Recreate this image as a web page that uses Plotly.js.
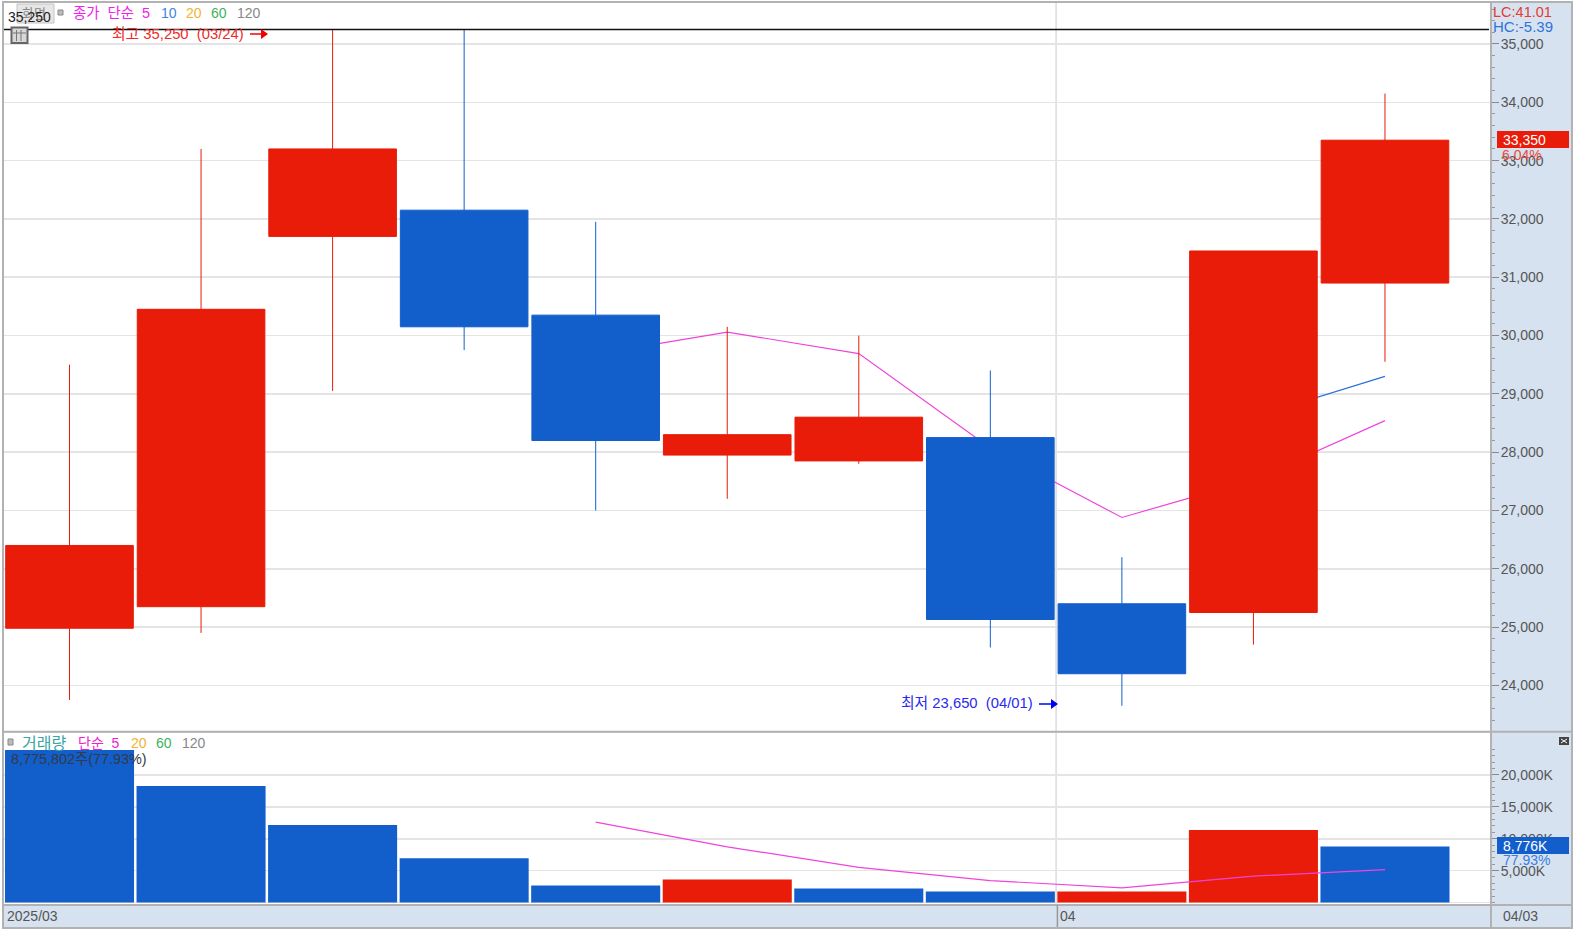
<!DOCTYPE html>
<html><head><meta charset="utf-8">
<script src="https://cdn.plot.ly/plotly-3.0.1.min.js"></script>
<style>html,body{margin:0;padding:0;background:#fff}#c{width:1576px;height:929px}</style>
</head><body><div id="c"></div>
<script>
const dates = ['03/20','03/21','03/24','03/25','03/26','03/27','03/28','03/31','04/01','04/02','04/03'];
const opens = [24980,25350,31700,32150,30350,27950,27850,28250,25400,25250,30900];
const highs = [29500,33200,35250,35250,31950,30150,30000,29400,26200,31450,34150];
const lows  = [23750,24900,29050,29750,27000,27200,27800,24650,23650,24700,29550];
const closes= [26400,30450,33200,30150,28200,28300,28600,25130,24200,31450,33350];
const ma5   = [null,null,null,null,29680,30060,29690,28070,26880,27530,28540];
const ma10  = [null,null,null,null,null,null,null,null,null,28605,29300];
const volumes = [23900,18260,12150,6930,2680,3620,2210,1740,1740,11360,8776];
const volColors = ['b','b','b','b','b','r','b','b','r','r','b'];
const volMa5 = [null,null,null,null,12584,8728,5518,3436,2302,4134,5165];
const volTicks = [5000,10000,15000,20000];
const monthBoundary = 7.5;
const highValue = 35250, lowValue = 23650;

const RED='#e81c08', BLUE='#125fcc', PINK='#ee44dd', GREY='#555555', FRAME='#b2b2b2';
const L=4,R=1491,T=3,B=904;
const fx=x=>(x-L)/(R-L), fy=y=>1-(y-T)/(B-T);
const LAT='"Liberation Sans", "Noto Sans CJK KR", Arial, sans-serif';
const SP='\u00A0 ';

const ann=[]; const shapes=[];
function text(x,y,t,color,size){ann.push({xref:'paper',yref:'paper',x:fx(x),y:fy(y),text:t,showarrow:false,xanchor:'left',yanchor:'middle',align:'left',borderpad:0,font:{family:LAT,size:size||14,color:color}});}
function rect(x0,y0,x1,y1,fill,line,w,layer){shapes.push({type:'rect',xref:'paper',yref:'paper',x0:fx(x0),x1:fx(x1),y0:fy(y0),y1:fy(y1),fillcolor:fill,line:{color:line||fill,width:line?(w||1):0},layer:layer||'above'});}
function seg(x0,y0,x1,y1,color,w,layer){shapes.push({type:'line',xref:'paper',yref:'paper',x0:fx(x0),x1:fx(x1),y0:fy(y0),y1:fy(y1),line:{color:color,width:w||1},layer:layer||'above'});}
function arrow(x0,x1,y,color){seg(x0,y,x1-6,y,color,1.5);
  const a=fx(x1-7),b=fx(x1),h=5/(B-T);const m=fy(y);
  shapes.push({type:'path',xref:'paper',yref:'paper',path:`M ${a} ${m+h} L ${b} ${m} L ${a} ${m-h} Z`,fillcolor:color,line:{width:0},layer:'above'});}

// month separator and high line
shapes.push({type:'line',xref:'x',yref:'paper',x0:monthBoundary,x1:monthBoundary,y0:0,y1:1,line:{color:'#dcdcdc',width:1.5},layer:'below'});
shapes.push({type:'line',xref:'paper',yref:'y',x0:0,x1:fx(1489),y0:highValue,y1:highValue,line:{color:'#111',width:1.5},layer:'above'});

// frame
rect(1497,131,1569,148,RED);
rect(1497,837,1569,854,BLUE);
seg(L,731.7,1572,731.7,FRAME,2);
seg(L,905,1572,905,FRAME,2);
seg(1491,2,1491,927,FRAME,2);
seg(1057.4,905,1057.4,927,'#999',1.5);
rect(1572,0,1576,929,'#ffffff');
rect(0,0,3,929,'#ffffff');
rect(0,0,1576,2,'#ffffff');
rect(0,928,1576,929,'#ffffff');
rect(3,2,1572,928,'rgba(0,0,0,0)',FRAME,2);

// toolbar pieces
rect(17,4,54,23,'#e6e6e6','#c4c4c4',1);
rect(58,10,63,15,'#bbbbbb','#888888',1);
rect(11.5,27.5,27.5,43,'#d8d8d8','#666666',2);
seg(16.5,30,16.5,41,'#777');seg(21,30,21,41,'#777');seg(13,33,26,33,'#777');
rect(8,739,13,745,'#bbbbbb','#888888',1);
rect(1559,737,1569,745,'#444444');
seg(1561,739,1567,743,'#fff',1);seg(1561,743,1567,739,'#fff',1);

// price legend
text(21,13,'화면','#888888',13);
text(7,17,'35,250','#222222',14);
text(72,13,'종가'+SP+'단순'+SP+'5','#f020f0',14.4);
text(160,13,'10','#3f83e6',14);
text(185,13,'20','#f2b233',14);
text(210,13,'60','#3cb35a',14);
text(236,13,'120','#888888',14);
text(111,34,'최고 35,250'+SP+'(03/24)','#f02a2a',14.8);
arrow(250,268,34,'#f00000');
text(900,703,'최저 23,650'+SP+'(04/01)','#2a2af0',14.8);
arrow(1039,1058,704,'#0000f0');

// right labels
text(1492,12,'LC:41.01','#e83a30',14.5);
text(1492,27,'HC:-5.39','#3074d8',15);
text(1502,140,'33,350','#ffffff',14);
text(1501,155,'6.04%','#e84a3a',14);
text(1502,846,'8,776K','#ffffff',14);
text(1502,860,'77.93%','#3a7ee0',14);

// volume legend
text(21,743,'거래량','#3aa5a5',16);
text(77,743,'단순'+SP+'5','#f020d0',14);
text(130,743,'20','#f2b233',14);
text(155,743,'60','#3cb35a',14);
text(181,743,'120','#888888',14);
text(10,759,'8,775,802주(77.93%)','#333a48',14.4);

// bottom labels
text(6,916,'2025/03',GREY,14);
text(1059,916,'04',GREY,14);
text(1502,916,'04/03',GREY,14);

const traces=[
 {type:'scatter',mode:'lines',x:dates,y:ma5,xaxis:'x',yaxis:'y',line:{color:PINK,width:1.2},hoverinfo:'skip',connectgaps:false},
 {type:'scatter',mode:'lines',x:dates,y:ma10,xaxis:'x',yaxis:'y',line:{color:'#2a6fdc',width:1.2},hoverinfo:'skip'},
 {type:'candlestick',x:dates,open:opens,high:highs,low:lows,close:closes,xaxis:'x',yaxis:'y3',
  increasing:{line:{color:RED,width:1},fillcolor:RED},decreasing:{line:{color:BLUE,width:1},fillcolor:BLUE},whiskerwidth:0,hoverinfo:'skip'},
 {type:'bar',x:dates,y:volumes,xaxis:'x2',yaxis:'y2',marker:{color:volColors.map(c=>c==='r'?RED:BLUE),line:{width:0}},hoverinfo:'skip'},
 {type:'scatter',mode:'lines',x:dates,y:volMa5,xaxis:'x2',yaxis:'y2',line:{color:PINK,width:1.2},hoverinfo:'skip'}
];
const xr=[-0.498,10.806];
const priceRange=[23218,35703];
const mainDom=[(B-731)/(B-T),1], volDom=[0,(B-733)/(B-T)];
const minorVol=[];for(let v=0;v<=24000;v+=1000)minorVol.push(v);
const layout={
 width:1576,height:929,margin:{l:L,r:1576-R,t:T,b:929-B,pad:0},
 paper_bgcolor:'#d6e2ef',plot_bgcolor:'#ffffff',showlegend:false,bargap:0.019,boxmode:'overlay',boxgap:0.03,boxgroupgap:0,
 hovermode:false,dragmode:false,
 xaxis:{type:'category',categoryorder:'array',categoryarray:dates,range:xr,domain:[0,1],anchor:'y',showgrid:false,showticklabels:false,ticks:'',zeroline:false,rangeslider:{visible:false}},
 xaxis2:{type:'category',categoryorder:'array',categoryarray:dates,range:xr,domain:[0,1],anchor:'y2',showgrid:false,showticklabels:false,ticks:'',zeroline:false},
 yaxis:{domain:mainDom,range:priceRange,anchor:'x',side:'right',dtick:1000,tick0:0,tickformat:',d',separatethousands:true,
  gridcolor:'#e4e4e4',gridwidth:1.6,zeroline:false,ticks:'outside',ticklen:7,tickcolor:'#888',tickwidth:1,ticklabelstandoff:-1,
  minor:{dtick:200,ticks:'outside',ticklen:3,tickcolor:'#999',showgrid:false},
  tickfont:{family:LAT,size:14,color:GREY}},
 yaxis3:{domain:mainDom,range:priceRange,overlaying:'y',anchor:'x',side:'left',visible:false,showgrid:false,zeroline:false},
 yaxis2:{domain:volDom,range:[-235,26567],anchor:'x2',side:'right',tickmode:'array',tickvals:volTicks,ticktext:volTicks.map(v=>v.toLocaleString('en-US')+'K'),
  gridcolor:'#e4e4e4',gridwidth:1.6,zeroline:true,zerolinecolor:'#e4e4e4',zerolinewidth:1.6,ticks:'outside',ticklen:7,tickcolor:'#888',tickwidth:1,ticklabelstandoff:-1,
  minor:{tickmode:'array',tickvals:minorVol,ticks:'outside',ticklen:3,tickcolor:'#999',showgrid:false},
  tickfont:{family:LAT,size:14,color:GREY}},
 shapes:shapes,annotations:ann
};
Plotly.newPlot('c',traces,layout,{displayModeBar:false,staticPlot:true});
</script></body></html>
